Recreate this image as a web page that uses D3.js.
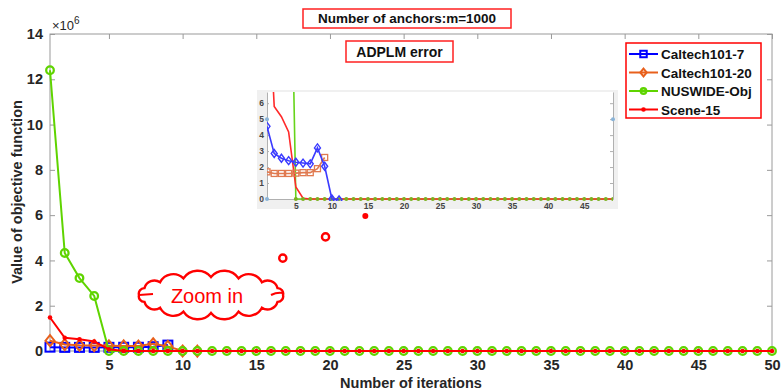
<!DOCTYPE html>
<html>
<head>
<meta charset="utf-8" />
<style>
  body { margin: 0; background: #fff; }
  text { font-family: "Liberation Sans", Arial, sans-serif; }
</style>
</head>
<body>
<script src="https://d3js.org/d3.v7.min.js"></script>
<script>
// values in units of 1e6, index 0 = iteration 1
var caltech7  = [0.17, 0.16, 0.16, 0.16, 0.162, 0.165, 0.165, 0.19, 0.26];
var caltech20 = [0.455, 0.285, 0.255, 0.24, 0.23, 0.225, 0.22, 0.32, 0.205, 0, -0.005];
var nuswide   = [12.4, 4.33, 3.22, 2.43, 0, 0, 0, 0, 0, 0,
                 0, 0, 0, 0, 0, 0, 0, 0, 0, 0,
                 0, 0, 0, 0, 0, 0, 0, 0, 0, 0,
                 0, 0, 0, 0, 0, 0, 0, 0, 0, 0,
                 0, 0, 0, 0, 0, 0, 0, 0, 0, 0];
var scene15   = [1.48, 0.58, 0.515, 0.42, 0.075, 0.005, 0, 0, 0, 0,
                 0, 0, 0, 0, 0, 0, 0, 0, 0, 0,
                 0, 0, 0, 0, 0, 0, 0, 0, 0, 0,
                 0, 0, 0, 0, 0, 0, 0, 0, 0, 0,
                 0, 0, 0, 0, 0, 0, 0, 0, 0, 0];
var seriesNames = ["Caltech101-7", "Caltech101-20", "NUSWIDE-Obj", "Scene-15"];
var xTicks = [5, 10, 15, 20, 25, 30, 35, 40, 45, 50];
var yTicks = [0, 2, 4, 6, 8, 10, 12, 14];
var insetXTicks = [5, 10, 15, 20, 25, 30, 35, 40, 45];
var insetYTicks = [0, 1, 2, 3, 4, 5, 6];
// stray points in the zoomed picture (iteration, value x1e5)
var insetStray = [[1, 5], [1, 0], [49, 5]];
// dotted "thought" marks from the cloud (iteration, value x1e6)
var bubbles = [[16.8, 4.1, "ring"], [19.7, 5.04, "ring"], [22.4, 5.96, "dot"]];

var W = 781, H = 390;
var svg = d3.select("body").append("svg").attr("width", W).attr("height", H);

var x = d3.scaleLinear().domain([1, 50]).range([50, 772]);
var y = d3.scaleLinear().domain([0, 14]).range([351, 34]);

var axisColor = "#9a9a9a", labelColor = "#262626";

// box
svg.append("rect").attr("x", 50).attr("y", 34).attr("width", 722).attr("height", 317)
  .attr("fill", "none").attr("stroke", axisColor).attr("stroke-width", 1);

function styleAxis(g, withLabels) {
  g.select(".domain").remove();
  g.selectAll(".tick line").attr("stroke", axisColor);
  g.selectAll(".tick text").attr("fill", labelColor).attr("font-weight", "bold")
    .attr("font-size", 14.5).style("display", withLabels ? null : "none");
}

svg.append("g").attr("transform", "translate(0,351)")
  .call(d3.axisBottom(x).tickValues(xTicks).tickSize(-5).tickPadding(9))
  .call(function(g) { styleAxis(g, true); });
svg.append("g").attr("transform", "translate(0,34)")
  .call(d3.axisTop(x).tickValues(xTicks).tickSize(-5))
  .call(function(g) { styleAxis(g, false); });
svg.append("g").attr("transform", "translate(50,0)")
  .call(d3.axisLeft(y).tickValues(yTicks).tickSize(-5).tickPadding(7))
  .call(function(g) { styleAxis(g, true); });
svg.append("g").attr("transform", "translate(772,0)")
  .call(d3.axisRight(y).tickValues(yTicks).tickSize(-5))
  .call(function(g) { styleAxis(g, false); });

// x10^6
var mult = svg.append("text").attr("x", 52).attr("y", 30).attr("fill", labelColor)
  .attr("font-size", 13);
mult.append("tspan").text("\u00d710");
mult.append("tspan").attr("dy", -6).attr("font-size", 10).text("6");

// axis titles
svg.append("text").attr("x", 411).attr("y", 388).attr("text-anchor", "middle")
  .attr("font-weight", "bold").attr("font-size", 14.5).attr("fill", labelColor)
  .text("Number of iterations");
svg.append("text").attr("transform", "translate(22,192) rotate(-90)").attr("text-anchor", "middle")
  .attr("font-weight", "bold").attr("font-size", 14.5).attr("fill", labelColor)
  .text("Value of objective function");

// series
var colors = ["#0000ff", "#e8601c", "#5fd400", "#ff0000"];
var allSeries = [caltech7, caltech20, nuswide, scene15];
var markers = ["square", "diamond", "circle", "dot"];

function drawMarker(g, type, color, cx, cy, s) {
  if (type === "square") {
    g.append("rect").attr("x", cx - 4.5 * s).attr("y", cy - 4.5 * s).attr("width", 9 * s).attr("height", 9 * s)
      .attr("fill", "none").attr("stroke", color).attr("stroke-width", 2);
  } else if (type === "diamond") {
    g.append("path").attr("d", "M" + cx + "," + (cy - 5.5 * s) + "L" + (cx + 4.5 * s) + "," + cy +
      "L" + cx + "," + (cy + 5.5 * s) + "L" + (cx - 4.5 * s) + "," + cy + "Z")
      .attr("fill", "none").attr("stroke", color).attr("stroke-width", 2);
  } else if (type === "circle") {
    g.append("circle").attr("cx", cx).attr("cy", cy).attr("r", 3.8 * s)
      .attr("fill", "none").attr("stroke", color).attr("stroke-width", 2.3);
  } else {
    g.append("circle").attr("cx", cx).attr("cy", cy).attr("r", 2.3).attr("fill", color);
  }
}

var line = d3.line().x(function(d, i) { return x(i + 1); }).y(function(d) { return y(d); });
var plot = svg.append("g");
allSeries.forEach(function(vals, k) {
  var g = plot.append("g");
  g.append("path").datum(vals).attr("d", line).attr("fill", "none")
    .attr("stroke", colors[k]).attr("stroke-width", 2);
  vals.forEach(function(v, i) { drawMarker(g, markers[k], colors[k], x(i + 1), y(v), 1); });
});

// legend
var lg = svg.append("g");
lg.append("rect").attr("x", 626).attr("y", 43).attr("width", 135).attr("height", 75)
  .attr("fill", "#fff").attr("stroke", "#ff0000").attr("stroke-width", 1.5);
seriesNames.forEach(function(name, k) {
  var ly = 54 + k * 18.5;
  lg.append("line").attr("x1", 629).attr("x2", 658).attr("y1", ly).attr("y2", ly)
    .attr("stroke", colors[k]).attr("stroke-width", 2);
  drawMarker(lg, markers[k], colors[k], 643.5, ly, 0.72);
  lg.append("text").attr("x", 661).attr("y", ly + 5).attr("font-weight", "bold")
    .attr("font-size", 13.5).attr("fill", "#111").text(name);
});

// title box
function boxedText(cx, cy, w, h, txt, fs) {
  svg.append("rect").attr("x", cx - w / 2).attr("y", cy - h / 2).attr("width", w).attr("height", h)
    .attr("fill", "#fff").attr("stroke", "#ff2020").attr("stroke-width", 1.5);
  svg.append("text").attr("x", cx).attr("y", cy + fs * 0.36).attr("text-anchor", "middle")
    .attr("font-weight", "bold").attr("font-size", fs).attr("fill", "#111").text(txt);
}
boxedText(407, 18.5, 208, 19, "Number of anchors:m=1000", 13.5);

// inset
var ix = d3.scaleLinear().domain([1, 49]).range([267, 613]);
var iy = d3.scaleLinear().domain([0, 6.7]).range([199, 92]);
var inset = svg.append("g");
inset.append("rect").attr("x", 257).attr("y", 90).attr("width", 361).attr("height", 119).attr("fill", "#f0f0f0");
inset.append("rect").attr("x", 267).attr("y", 92).attr("width", 346).attr("height", 107).attr("fill", "#fff");
svg.append("defs").append("clipPath").attr("id", "iclip").append("rect")
  .attr("x", 267).attr("y", 92).attr("width", 346).attr("height", 109);

function styleInset(g, withLabels) {
  g.select(".domain").attr("stroke", "#b0b0b0");
  g.selectAll(".tick line").attr("stroke", "#b0b0b0");
  g.selectAll(".tick text").attr("fill", "#444").attr("font-weight", "bold").attr("font-size", 8.5)
    .style("display", withLabels ? null : "none");
}
inset.append("g").attr("transform", "translate(0,199)")
  .call(d3.axisBottom(ix).tickValues(insetXTicks).tickFormat(d3.format("d")).tickSize(-2).tickSizeOuter(0).tickPadding(4))
  .call(function(g) { styleInset(g, true); });
inset.append("g").attr("transform", "translate(267,0)")
  .call(d3.axisLeft(iy).tickValues(insetYTicks).tickFormat(d3.format("d")).tickSize(-2).tickSizeOuter(0).tickPadding(3))
  .call(function(g) { styleInset(g, true); });
inset.append("g").attr("transform", "translate(613,0)")
  .call(d3.axisRight(iy).tickValues(insetYTicks).tickSize(-3).tickSizeOuter(0))
  .call(function(g) { styleInset(g, false); });

// the zoomed picture draws Caltech101-7 in orange squares and Caltech101-20 in blue diamonds
var insetColors = ["#e07a50", "#3a3aff", "#66d41a", "#ff2a2a"];
var iline = d3.line().x(function(d, i) { return ix(i + 1); }).y(function(d) { return iy(d * 10); });
var ip = inset.append("g").attr("clip-path", "url(#iclip)");
[2, 3].forEach(function(k) {
  ip.append("path").datum(allSeries[k]).attr("d", iline).attr("fill", "none")
    .attr("stroke", insetColors[k]).attr("stroke-width", 1.6);
});
nuswide.forEach(function(v, i) {
  if (v * 10 < 6.7) {
    ip.append("circle").attr("cx", ix(i + 1)).attr("cy", iy(v * 10)).attr("r", 2).attr("fill", "#7cb020");
  }
});
[0, 1].forEach(function(k) {
  var vals = allSeries[k];
  ip.append("path").datum(vals).attr("d", iline).attr("fill", "none")
    .attr("stroke", insetColors[k]).attr("stroke-width", 1.6);
  vals.forEach(function(v, i) {
    var cx = ix(i + 1), cy = iy(v * 10);
    if (k === 0) {
      ip.append("rect").attr("x", cx - 3).attr("y", cy - 3).attr("width", 6).attr("height", 6)
        .attr("fill", "none").attr("stroke", insetColors[k]).attr("stroke-width", 1.3);
    } else {
      ip.append("path").attr("d", "M" + cx + "," + (cy - 4) + "L" + (cx + 3) + "," + cy +
        "L" + cx + "," + (cy + 4) + "L" + (cx - 3) + "," + cy + "Z")
        .attr("fill", "none").attr("stroke", insetColors[k]).attr("stroke-width", 1.4);
    }
  });
});
insetStray.forEach(function(p) {
  inset.append("circle").attr("cx", ix(p[0])).attr("cy", iy(p[1])).attr("r", 2).attr("fill", "#8ab4d8");
});

boxedText(399.5, 51.5, 107, 21, "ADPLM error", 14);

// thought marks
bubbles.forEach(function(b) {
  if (b[2] === "ring") {
    svg.append("circle").attr("cx", x(b[0])).attr("cy", y(b[1])).attr("r", 3.6)
      .attr("fill", "none").attr("stroke", "#ff0000").attr("stroke-width", 2.4);
  } else {
    svg.append("circle").attr("cx", x(b[0])).attr("cy", y(b[1])).attr("r", 3).attr("fill", "#ff0000");
  }
});

// cloud
var ccx = 211, ccy = 295, crx = 72, cry = 18, nb = 16;
var pts = [];
for (var i = 0; i <= nb; i++) {
  var a = Math.PI + (i / nb) * 2 * Math.PI;
  pts.push([ccx + crx * Math.cos(a), ccy + cry * Math.sin(a)]);
}
var cd = "M" + pts[0][0] + "," + pts[0][1];
for (var j = 1; j < pts.length; j++) {
  var dx = pts[j][0] - pts[j - 1][0], dy = pts[j][1] - pts[j - 1][1];
  var r = Math.sqrt(dx * dx + dy * dy) * 0.62;
  cd += "A" + r + "," + r + " 0 0 1 " + pts[j][0] + "," + pts[j][1];
}
svg.append("path").attr("d", cd).attr("fill", "#fff").attr("stroke", "#ff0000").attr("stroke-width", 2.4);
svg.append("path").attr("d", "M" + (ccx - crx) + "," + ccy + "l14,-1")
  .attr("stroke", "#ff0000").attr("stroke-width", 2.2).attr("fill", "none");
svg.append("path").attr("d", "M" + (ccx + crx) + "," + (ccy - 2) + "q-6,-1 -12,2")
  .attr("stroke", "#ff0000").attr("stroke-width", 2.2).attr("fill", "none");
svg.append("text").attr("x", ccx - 4).attr("y", ccy + 8).attr("text-anchor", "middle")
  .attr("font-size", 20).attr("fill", "#ff0000").text("Zoom in");
</script>
</body>
</html>
